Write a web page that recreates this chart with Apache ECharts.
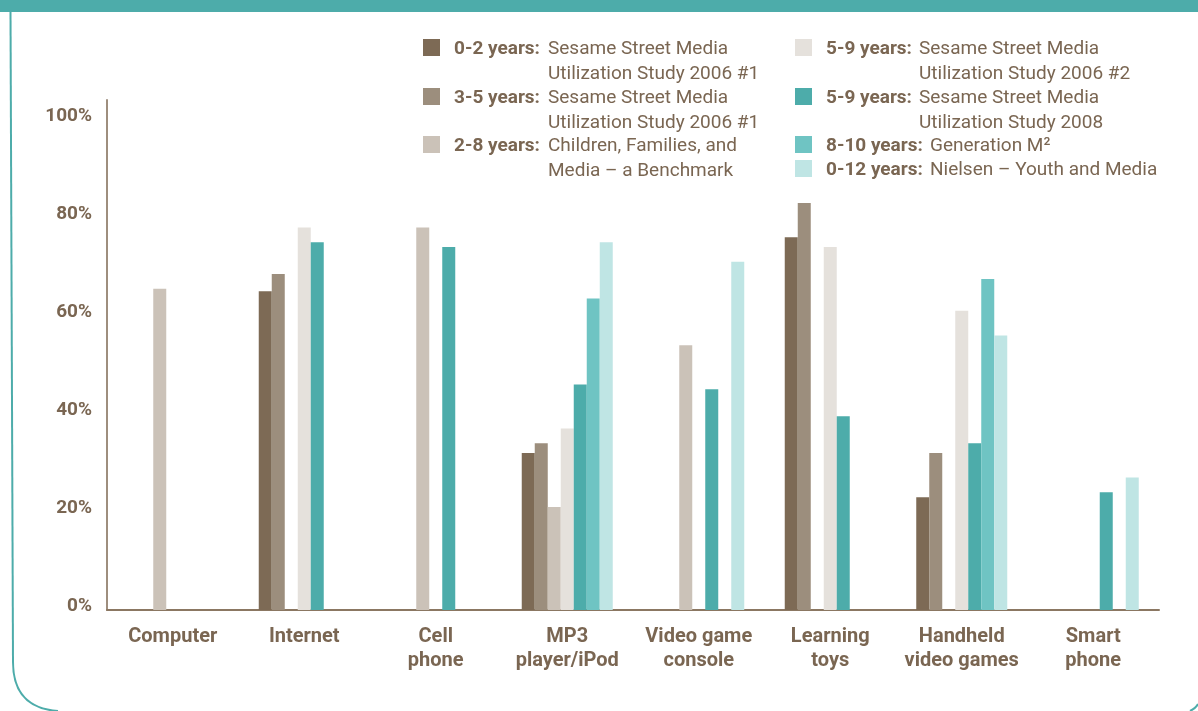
<!DOCTYPE html>
<html>
<head>
<meta charset="utf-8">
<script src="https://cdn.jsdelivr.net/npm/echarts@6/dist/echarts.min.js"></script>
<style>
html,body{margin:0;padding:0;background:#fff;}
#chart{width:1198px;height:711px;}
</style>
</head>
<body>
<div id="chart"></div>
<script>
const categories = ['Computer', 'Internet', 'Cell\nphone', 'MP3\nplayer/iPod', 'Video game\nconsole', 'Learning\ntoys', 'Handheld\nvideo games', 'Smart\nphone'];
const yTicks = [0, 20, 40, 60, 80, 100];

const legendBold = ['0-2 years:', '3-5 years:', '2-8 years:', '5-9 years:', '5-9 years:', '8-10 years:', '0-12 years:'];
const legendText = [
  'Sesame Street Media\nUtilization Study 2006 #1',
  'Sesame Street Media\nUtilization Study 2006 #1',
  'Children, Families, and\nMedia \u2013 a Benchmark',
  'Sesame Street Media\nUtilization Study 2006 #2',
  'Sesame Street Media\nUtilization Study 2008',
  'Generation M\u00B2',
  'Nielsen \u2013 Youth and Media'
];
const seriesColors = ['#7d6a55', '#9c8e7d', '#cbc2b8', '#e5e1dc', '#4dacaa', '#6fc4c3', '#bfe5e4'];

const s0_2_2006a = [null, 65, null, 32, null, 76, 23, null];
const s3_5_2006a = [null, 68.5, null, 34, null, 83, 32, null];
const s2_8_bench = [65.5, null, 78, 21, 54, null, null, null];
const s5_9_2006b = [null, 78, null, 37, null, 74, 61, null];
const s5_9_2008 = [null, 75, 74, 46, 45, 39.5, 34, 24];
const s8_10_genM = [null, null, null, 63.5, null, null, 67.5, null];
const s0_12_nielsen = [null, null, null, 75, 71, null, 56, 27];
const seriesData = [s0_2_2006a, s3_5_2006a, s2_8_bench, s5_9_2006b, s5_9_2008, s8_10_genM, s0_12_nielsen];

const brown = '#7a6652';
const teal = '#4dacaa';
const FONT = 'Roboto';

const chart = echarts.init(document.getElementById('chart'), null, {renderer: 'canvas'});

// legend layout (two columns)
const legendPos = [
  {sx: 423, bx: 454, rx: 548, y: 48},
  {sx: 423, bx: 454, rx: 548, y: 97},
  {sx: 423, bx: 454, rx: 548, y: 145},
  {sx: 795, bx: 826, rx: 919, y: 48},
  {sx: 795, bx: 826, rx: 919, y: 97},
  {sx: 795, bx: 826, rx: 930, y: 145},
  {sx: 795, bx: 826, rx: 930, y: 169}
];
const legendGraphics = [];
legendBold.forEach((b, i) => {
  const p = legendPos[i];
  legendGraphics.push({
    type: 'rect', shape: {x: p.sx, y: p.y - 9, width: 17, height: 17},
    style: {fill: seriesColors[i]}
  });
  legendGraphics.push({
    type: 'text', x: p.bx, y: p.y + 1,
    style: {text: b, fill: brown, font: 'bold 19px ' + FONT, textVerticalAlign: 'middle'}
  });
  legendGraphics.push({
    type: 'text', x: p.rx, y: p.y - 11,
    style: {text: legendText[i], fill: brown, font: '19px ' + FONT, lineHeight: 24.5, textVerticalAlign: 'top'}
  });
});

const frame = [
  {type: 'rect', shape: {x: 0, y: 0, width: 1198, height: 12}, style: {fill: teal}, z: 10},
  {type: 'line', shape: {x1: 10.5, y1: 11, x2: 13, y2: 662}, style: {stroke: teal, lineWidth: 2}},
  {type: 'bezierCurve', shape: {x1: 13, y1: 662, cpx1: 13, cpy1: 708, x2: 58, y2: 711}, style: {stroke: teal, lineWidth: 2, fill: null}},
  {type: 'bezierCurve', shape: {x1: 1190, y1: 711, cpx1: 1196, cpy1: 708, x2: 1198, y2: 704}, style: {stroke: teal, lineWidth: 2, fill: null}}
];

const option = {
  backgroundColor: '#ffffff',
  animation: false,
  grid: {left: 107, top: 100, width: 1052, bottom: 101, containLabel: false},
  xAxis: {
    type: 'category',
    data: categories,
    axisLine: {show: true, lineStyle: {color: '#8b7762', width: 2}},
    axisTick: {show: false},
    axisLabel: {
      color: brown, fontFamily: FONT, fontWeight: 'bold', fontSize: 20,
      lineHeight: 24, margin: 15, interval: 0
    }
  },
  yAxis: {
    type: 'value',
    min: 0, max: 104, interval: 20,
    axisLine: {show: true, lineStyle: {color: '#9e8e7e', width: 2}},
    axisTick: {show: false},
    splitLine: {show: false},
    axisLabel: {
      color: brown, fontFamily: FONT, fontWeight: 'bold', fontSize: 19, margin: 15,
      verticalAlign: 'bottom', lineHeight: 7,
      formatter: v => (yTicks.indexOf(v) >= 0 ? v + '%' : '')
    }
  },
  series: seriesData.map((d, i) => ({
    type: 'bar',
    name: legendBold[i] + ' ' + legendText[i].replace('\n', ' '),
    data: d,
    barWidth: 13,
    barGap: '0%',
    itemStyle: {color: seriesColors[i]}
  })),
  graphic: frame.concat(legendGraphics)
};
chart.setOption(option);
</script>
</body>
</html>
